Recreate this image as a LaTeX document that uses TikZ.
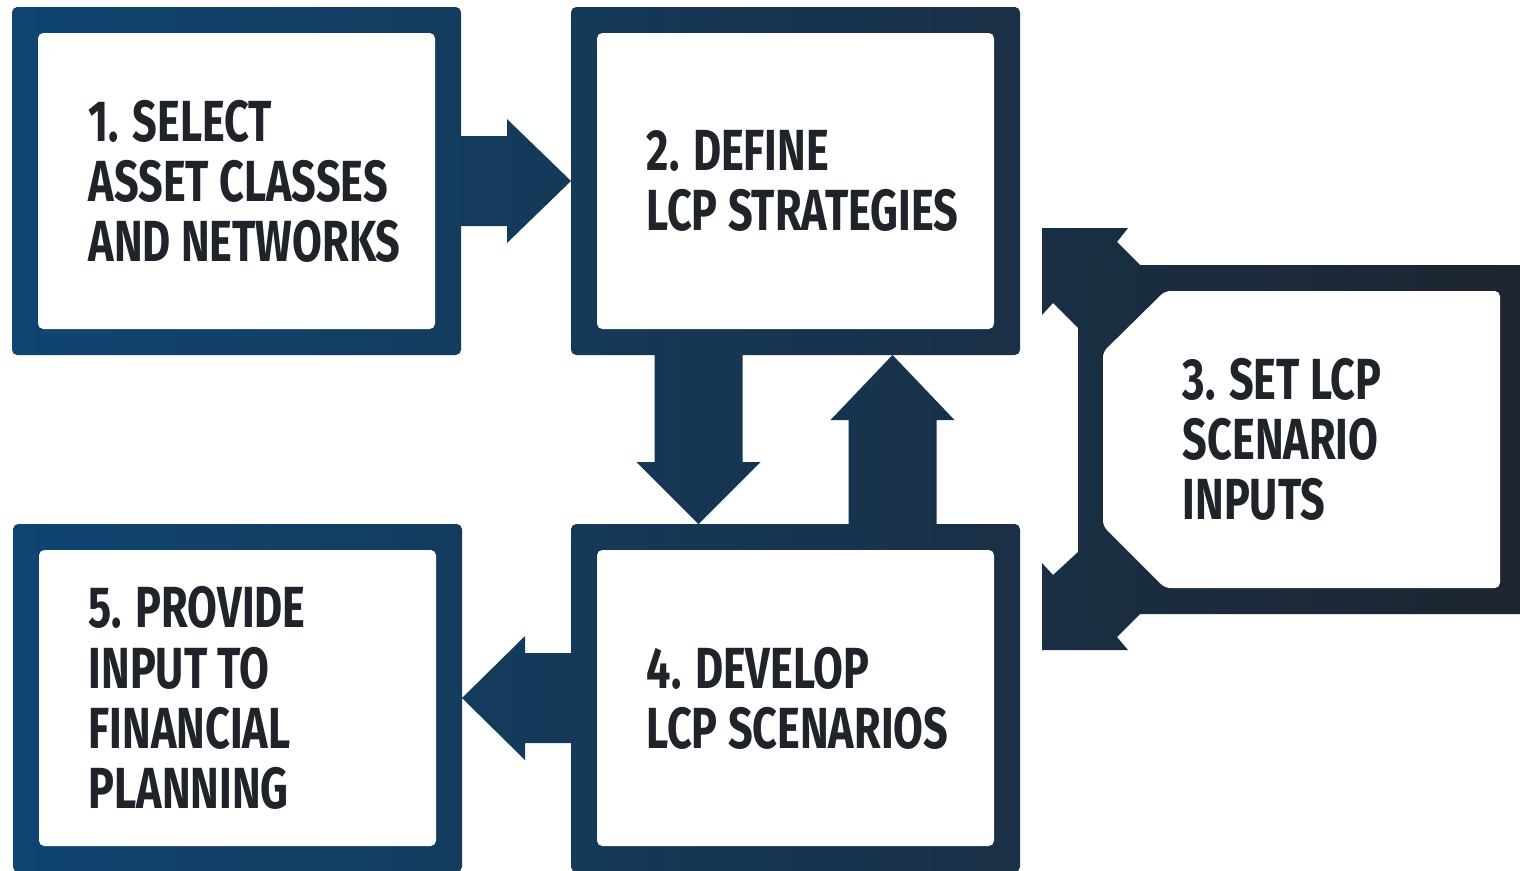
\documentclass[tikz,border=0pt]{standalone}
\usepackage{fontspec}
\newfontfamily\stepfont[FakeStretch=0.745]{Fira Sans}
\usetikzlibrary{positioning,calc}
\definecolor{frameblue}{HTML}{0F4571}
\definecolor{framedark}{HTML}{1E2530}
\definecolor{labelink}{HTML}{1F242B}

\begin{document}
\begin{tikzpicture}
[x=0.1mm, y=-0.1mm,
box/.style={rectangle, inner sep=0pt, outer sep=0pt, minimum width=44.9mm, minimum height=34.8mm},
hole/.style={fill=white, rounded corners=1.5pt},
steptext/.style={anchor=west, inner sep=0pt, align=left, text=labelink,
                 font=\stepfont\bfseries\fontsize{16.5}{17.1}\selectfont}
]
\useasboundingbox[fill=white] (0,0) rectangle (1520,870);

% outer boxes, only for anchors
\node[box] (b1) at (236.5,181) {};
\node[box] (b2) at (795.5,181) {};
\node[box, minimum width=44.2mm, minimum height=34.9mm] (b3) at (1299,439.5) {};
\node[box] (b4) at (795.5,698) {};
\node[box] (b5) at (237.5,698) {};

% all dark shapes in one shading
\shade[left color=frameblue, right color=framedark, rounded corners=1.5pt]
    (b1.north west) rectangle (b1.south east)
    (b2.north west) rectangle (b2.south east)
    (b4.north west) rectangle (b4.south east)
    (b5.north west) rectangle (b5.south east)
    [sharp corners]
    % frame of step 3 with its two corner arrows
    (1520,265) -- (1140,265) -- (1117,242) -- (1128,228) -- (1042,228)
    -- (1042,315) -- (1053,303) -- (1078,328) -- (1078,552) -- (1053,575)
    -- (1042,563) -- (1042,650) -- (1128,650) -- (1117,637) -- (1140,614)
    -- (1520,614) -- cycle
    % 1 -> 2
    ($(b1.east)+(-5,45)$) -- ++(51,0) -- ++(0,17) -- (b2.west)
    -- ($(b1.east)+(46,-62)$) -- ++(0,17) -- ($(b1.east)+(-5,-45)$) -- cycle
    % 4 -> 5
    ($(b4.west)+(5,-45)$) -- ++(-51,0) -- ++(0,-17) -- (b5.east)
    -- ($(b4.west)+(-46,62)$) -- ++(0,-17) -- ($(b4.west)+(5,45)$) -- cycle
    % 2 -> 4
    ($(b2.south)+(-141,-5)$) -- ++(0,112) -- ++(-18,0) -- ($(b4.north)+(-97,0)$)
    -- ($(b2.south)+(-35,107)$) -- ++(-18,0) -- ($(b2.south)+(-53,-5)$) -- cycle
    % 4 -> 2
    ($(b4.north)+(141,5)$) -- ++(0,-109) -- ++(18,0) -- ($(b2.south)+(97,0)$)
    -- ($(b4.north)+(35,-104)$) -- ++(18,0) -- ($(b4.north)+(53,5)$) -- cycle;

% white insides
\foreach \b in {b1,b2,b4,b5}
    \fill[hole] ($(\b.north west)+(26,26)$) rectangle ($(\b.south east)+(-26,-26)$);
\fill[hole] (1165,291) -- (1500,291) -- (1500,588) -- (1165,588)
    -- (1103,526) -- (1103,352) -- cycle;

% labels
\node[steptext, right=7.6mm of b1.west] (t1) {1. SELECT\\ASSET CLASSES\\AND NETWORKS};
\node[steptext, right=7.5mm of b2.west] (t2) {2. DEFINE\\LCP STRATEGIES};
\node[steptext, right=10.4mm of b3.west] (t3) {3. SET LCP\\SCENARIO\\INPUTS};
\node[steptext, right=7.5mm of b4.west] (t4) {4. DEVELOP\\LCP SCENARIOS};
\node[steptext, right=7.5mm of b5.west] (t5) {5. PROVIDE\\INPUT TO\\FINANCIAL\\PLANNING};
\end{tikzpicture}
\end{document}
